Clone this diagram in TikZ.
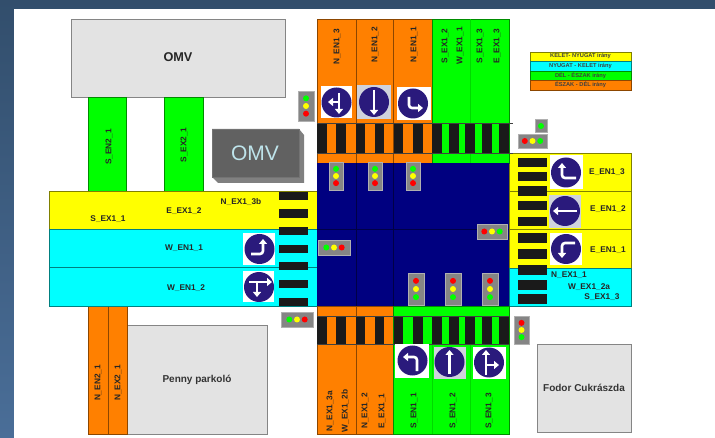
\documentclass[tikz,border=0pt]{standalone}
\usepackage{fontspec}
\setmainfont{Liberation Sans}
\usetikzlibrary{arrows.meta}
\definecolor{cOrange}{HTML}{FF8000}
\definecolor{cGreen}{HTML}{00FF00}
\definecolor{cYellow}{HTML}{FFFF00}
\definecolor{cCyan}{HTML}{00FFFF}
\definecolor{cNavy}{HTML}{000080}
\definecolor{cBar}{HTML}{1A1A1A}
\definecolor{cBldg}{HTML}{E3E3E3}
\definecolor{cBldgB}{HTML}{858585}
\definecolor{cSign}{HTML}{2A1A7C}
\definecolor{cSignG}{HTML}{CFD2DC}
\definecolor{cLight}{HTML}{858585}
\definecolor{cLightB}{HTML}{B0B0B0}
\definecolor{cBackTop}{HTML}{324E6C}
\definecolor{cBackBot}{HTML}{4A6E98}
\definecolor{cLogo}{HTML}{BEE4EB}
\tikzset{
  road orange/.style={fill=cOrange,draw=cOrange!55!black,line width=.6pt},
  road green/.style={fill=cGreen,draw=cGreen!55!black,line width=.6pt},
  road yellow/.style={fill=cYellow,draw=cYellow!50!black,line width=.6pt},
  road cyan/.style={fill=cCyan,draw=cCyan!50!black,line width=.6pt},
  lane green/.style={draw=cGreen!85!black,line width=.5pt},
  frame line/.style={draw=black!75,line width=.4pt},
  building/.style={fill=cBldg,draw=cBldgB,line width=.8pt},
  barfill/.style={fill=cBar},
  lightbox/.style={fill=cLight,draw=cLightB,line width=.7pt},
  sign arrow/.style={draw=white,line width=2.6pt,rounded corners=3pt,-{Triangle[length=5pt,width=8pt]}},
  lbl/.style={font=\fontsize{8.3}{10}\selectfont\bfseries,text=black!85,inner sep=0pt},
  vlbl/.style={lbl,rotate=90},
  bigname/.style={font=\fontsize{12.7}{14}\selectfont\bfseries,text=black!85,inner sep=0pt},
  midname/.style={font=\fontsize{10}{12}\selectfont\bfseries,text=black!80,inner sep=0pt},
  legendtext/.style={font=\fontsize{5.7}{7}\selectfont\bfseries,text=black!75,inner sep=0pt}
}
\newcommand{\lampdot}[3]{\fill[#1] (#2,#3) circle (3);}
\newcommand{\lightv}[7]{% x1 x2 y1 y2, lamps top, mid, bottom
  \draw[lightbox] (#1,#3) rectangle (#2,#4);
  \pgfmathsetmacro{\mx}{(#1+#2)/2}\pgfmathsetmacro{\my}{(#3+#4)/2}\pgfmathsetmacro{\dy}{(#4-#3)*.255}
  \pgfmathsetmacro{\ya}{\my-\dy}\pgfmathsetmacro{\yb}{\my+\dy}
  \lampdot{#5}{\mx}{\ya}\lampdot{#6}{\mx}{\my}\lampdot{#7}{\mx}{\yb}}
\newcommand{\lighth}[7]{% x1 x2 y1 y2, lamps left, mid, right
  \draw[lightbox] (#1,#3) rectangle (#2,#4);
  \pgfmathsetmacro{\mx}{(#1+#2)/2}\pgfmathsetmacro{\my}{(#3+#4)/2}
  \pgfmathsetmacro{\xa}{\mx-7.7}\pgfmathsetmacro{\xb}{\mx+7.7}
  \lampdot{#5}{\xa}{\my}\lampdot{#6}{\mx}{\my}\lampdot{#7}{\xb}{\my}}
\newcommand{\signbase}[7]{% x1 y1 x2 y2 colour cx cy
  \fill[#5] (#1,#2) rectangle (#3,#4);
  \fill[cSign] (#6,#7) circle (15);}
\begin{document}
\begin{tikzpicture}[x=1pt,y=-1pt]
\useasboundingbox (0,0) rectangle (715,438);
% backdrop
\shade[top color=cBackTop,bottom color=cBackBot] (0,0) rectangle (715,438);
\fill[white] (14,9) rectangle (715,438);
% buildings
\draw[building] (71,19) rectangle (285,97);
\draw[building] (127,325) rectangle (267,434);
\draw[building] (537,344) rectangle (631,432);
% side roads
\draw[road green] (88,97) rectangle (126,191);
\draw[road green] (164,97) rectangle (203,191);
\draw[road orange] (88,306) rectangle (108,434);
\draw[road orange] (108,306) rectangle (127,434);
% west arm
\draw[road yellow] (49,191) rectangle (317,229);
\draw[road cyan] (49,229) rectangle (317,267.5);
\draw[road cyan] (49,267.5) rectangle (317,306);
% east arm
\draw[road yellow] (509,153) rectangle (631,191);
\draw[road yellow] (509,191) rectangle (631,229);
\draw[road yellow] (509,229) rectangle (631,268);
\draw[road cyan] (509,268) rectangle (631,306);
% north arm
\draw[road orange] (317,19) rectangle (356,163);
\draw[road orange] (356,19) rectangle (393.5,163);
\draw[road orange] (393.5,19) rectangle (432,163);
\draw[road green] (432,19) rectangle (509,163);
\draw[lane green] (470.5,19) -- (470.5,163);
% south arm
\draw[road orange] (317,306) rectangle (356,434);
\draw[road orange] (356,306) rectangle (393.5,434);
\draw[road green] (393.5,306) rectangle (509,434);
\draw[lane green] (432,344) -- (432,434) (470.5,344) -- (470.5,434);
% junction
\fill[cNavy] (317,163) rectangle (509,306);
\draw[black!45!cNavy,line width=.5pt] (356,163) -- (356,306) (393.5,163) -- (393.5,306) (317,229) -- (509,229);
% crossings
\foreach \a/\b in {317/327,336/346,356/365,375/384,394/403,413/423,432/442,449/459,465/475,482/492,499/509}{
  \fill[barfill] (\a,123) rectangle (\b,153);
  \fill[barfill] (\a,316) rectangle (\b,344);}
\draw[frame line] (317,123) -- (513,123) (317,153) -- (513,153) (317,316) -- (509,316) (317,344) -- (509,344);
\foreach \a/\b in {192/200,209/218,227/235,245/253,262/270,280/288,298/306}
  \fill[barfill] (279,\a) rectangle (308,\b);
\foreach \a/\b in {158/167,172/181,186/196,201/210,217/226,233/243,249/259,265/275,280/290,294/304}
  \fill[barfill] (518,\a) rectangle (547,\b);
% north signs
\signbase{321}{86}{352}{118}{white}{336.5}{102.5}
\draw[sign arrow] (339,93) -- (339,114);
\draw[sign arrow] (339,102) -- (328,102);
\signbase{357}{85}{391}{119}{cSignG}{374}{102}
\draw[sign arrow] (374,90) -- (374,115);
\signbase{397}{87}{431}{120}{white}{413}{103.5}
\draw[sign arrow] (409,97) -- (409,108) -- (423,108);
% east signs
\signbase{550}{155}{583}{189}{white}{566}{172.5}
\draw[sign arrow] (576,178) -- (562,178) -- (562,163);
\signbase{549}{195}{581}{228}{cSignG}{565}{211}
\draw[sign arrow] (577,211) -- (553,211);
\signbase{550}{233}{582}{265}{white}{566}{249}
\draw[sign arrow] (575,243) -- (562,243) -- (562,258);
% west signs
\signbase{243}{233}{275}{265}{white}{259.5}{249}
\draw[sign arrow] (251,254) -- (263,254) -- (263,239);
\signbase{243}{271}{274}{302}{white}{259}{287}
\draw[sign arrow] (249,282) -- (272,282);
\draw[sign arrow] (257,282) -- (257,297);
% south signs
\signbase{395}{344}{429}{378}{white}{412.5}{360.5}
\draw[sign arrow] (417,371) -- (417,357) -- (403,357);
\signbase{434}{347}{466}{379}{cSignG}{449.5}{362}
\draw[sign arrow] (449.5,374) -- (449.5,350);
\signbase{473}{347}{506}{379}{white}{489}{362.5}
\draw[sign arrow] (486,375) -- (486,350);
\draw[sign arrow] (486,365) -- (499,365);
% OMV block
\fill[black!50] (212,129) -- (299,129) -- (304,135) -- (304,183) -- (218,183) -- (212,177) -- cycle;
\fill[black!62] (212,129) rectangle (299,177);
\draw[black!55,line width=.5pt] (212,129) rectangle (299,177);
% traffic lights
\lightv{298}{314}{91}{121}{cGreen}{cYellow}{red}
\lightv{329}{343}{162}{190}{cGreen}{cYellow}{red}
\lightv{368}{382}{162}{190}{cGreen}{cYellow}{red}
\lightv{406}{420}{162}{190}{cGreen}{cYellow}{red}
\lightv{408}{424}{273}{305}{red}{cYellow}{cGreen}
\lightv{445}{461}{273}{305}{red}{cYellow}{cGreen}
\lightv{482}{498}{273}{305}{red}{cYellow}{cGreen}
\lightv{514}{529}{316}{344}{red}{cYellow}{cGreen}
\lighth{518}{547}{134}{148}{red}{cYellow}{cGreen}
\lighth{477}{507}{224}{239}{red}{cYellow}{cGreen}
\lighth{318}{350}{240}{255}{cGreen}{cYellow}{red}
\lighth{281}{313}{312}{327}{cGreen}{cYellow}{red}
\draw[lightbox] (535,119) rectangle (547,132);
\lampdot{cGreen}{541}{126}
% legend
\draw[road yellow] (530,52) rectangle (631,61.5);
\draw[road cyan] (530,61.5) rectangle (631,71);
\draw[road green] (530,71) rectangle (631,80.5);
\draw[road orange] (530,80.5) rectangle (631,90);
\node[legendtext] (lega) at (580.5,56.3) {KELET- NYUGAT irány};
\node[legendtext] (legb) at (580.5,66) {NYUGAT - KELET irány};
\node[legendtext] (legc) at (580.5,75.5) {DÉL - ÉSZAK irány};
\node[legendtext] (legd) at (580.5,85) {ÉSZAK - DÉL irány};
% names
\node[bigname] (omv) at (178,57.5) {OMV};
\node[inner sep=0pt,font=\fontsize{21}{24}\selectfont,text=cLogo] (omvlogo) at (255,153) {OMV};
\node[midname] (penny) at (197,380) {Penny parkoló};
\node[midname] (fodor) at (584,388) {Fodor Cukrászda};
% horizontal labels
\node[lbl] (a1) at (241,202) {N\_EX1\_3b};
\node[lbl] (a2) at (184,211) {E\_EX1\_2};
\node[lbl] (a3) at (108,219) {S\_EX1\_1};
\node[lbl] (a4) at (184,248) {W\_EN1\_1};
\node[lbl] (a5) at (186,288) {W\_EN1\_2};
\node[lbl] (a6) at (607,172) {E\_EN1\_3};
\node[lbl] (a7) at (608,209) {E\_EN1\_2};
\node[lbl] (a8) at (608,250) {E\_EN1\_1};
\node[lbl] (a9) at (569,275) {N\_EX1\_1};
\node[lbl] (a10) at (589,287) {W\_EX1\_2a};
\node[lbl] (a11) at (602,297) {S\_EX1\_3};
% vertical labels
\node[vlbl] (b1) at (109,147) {S\_EN2\_1};
\node[vlbl] (b2) at (184,145) {S\_EX2\_1};
\node[vlbl] (b3) at (337,47) {N\_EN1\_3};
\node[vlbl] (b4) at (375,45) {N\_EN1\_2};
\node[vlbl] (b5) at (414,45) {N\_EN1\_1};
\node[vlbl] (b6) at (445,46) {S\_EX1\_2};
\node[vlbl] (b7) at (460,46) {W\_EX1\_1};
\node[vlbl] (b8) at (480,46) {S\_EX1\_3};
\node[vlbl] (b9) at (497,46) {E\_EX1\_3};
\node[vlbl] (b10) at (330,411) {N\_EX1\_3a};
\node[vlbl] (b11) at (345,411) {W\_EX1\_2b};
\node[vlbl] (b12) at (365,411) {N\_EX1\_2};
\node[vlbl] (b13) at (382,411) {E\_EX1\_1};
\node[vlbl] (b14) at (414,411) {S\_EN1\_1};
\node[vlbl] (b15) at (453,411) {S\_EN1\_2};
\node[vlbl] (b16) at (489,411) {S\_EN1\_3};
\node[vlbl] (b17) at (98,383) {N\_EN2\_1};
\node[vlbl] (b18) at (118,383) {N\_EX2\_1};
\end{tikzpicture}
\end{document}
